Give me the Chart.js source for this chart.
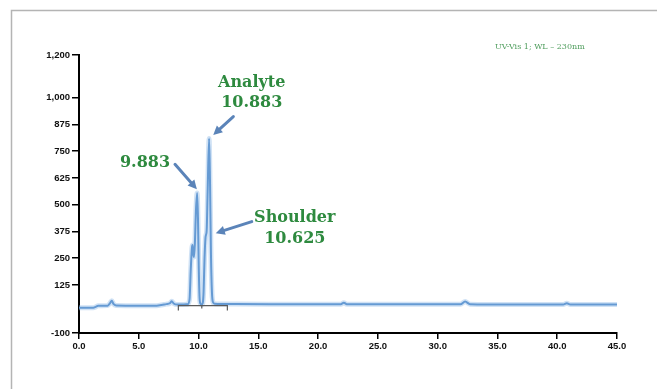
<!DOCTYPE html>
<html>
<head>
<meta charset="utf-8">
<script src="https://cdn.jsdelivr.net/npm/chart.js@4/dist/chart.umd.min.js"></script>
<style>
  html, body { margin: 0; padding: 0; background: #fff; }
  #wrap { position: relative; width: 657px; height: 389px; }
</style>
</head>
<body>
<div id="wrap"><canvas id="chrom" width="657" height="389"></canvas></div>
<script>
// Chromatogram trace: retention time (min) and detector response (mAU)
const retentionTimes = [
  0.0, 1.2, 1.4, 1.6, 2.4, 2.6, 2.74, 2.88, 3.1, 5.0, 6.5, 7.3, 7.6, 7.76, 7.92, 8.2, 9.0,
  9.10, 9.25, 9.35, 9.45, 9.50, 9.56, 9.62, 9.70, 9.78, 9.883, 9.95, 10.02, 10.08, 10.15,
  10.25, 10.35, 10.42, 10.50, 10.58, 10.625, 10.68, 10.76, 10.883, 10.96, 11.04, 11.12,
  11.20, 11.35, 12.0, 16.0, 21.9, 22.15, 22.4, 27.0, 31.9, 32.3, 32.7, 36.0, 40.5, 40.8,
  41.1, 45.0
];
const response = [
  18, 18, 22, 27, 28, 40, 51, 36, 29, 28, 28, 35, 39, 48, 38, 33, 34,
  35, 60, 200, 300, 312, 270, 255, 330, 470, 555, 440, 200, 70, 38,
  33, 40, 90, 250, 345, 359, 380, 560, 810, 600, 260, 90,
  45, 37, 36, 35, 35, 42, 35, 34, 34, 47, 35, 33, 33, 39,
  33, 33
];

// Integration baseline drawn under the peak cluster (null breaks the path)
const integrationT = [8.31, 8.31, 12.41, 12.41, null, 10.27, 10.27];
const integrationV = [5, 28, 28, 5, null, 28, 14];

// Axis ticks
const yTickValues = [-100, 125, 250, 375, 500, 625, 750, 875, 1000, 1200];
const xTickValues = [0, 5, 10, 15, 20, 25, 30, 35, 40, 45];

// Peak annotations: text lines with centre positions in data units
const labelLines = [['Analyte', '10.883'], ['9.883'], ['Shoulder', '10.625']];
const labelT = [14.45, 5.52, 18.05];
const labelV = [[1068, 976], [695], [437, 340]];

// Arrows from label towards the peak: [tailT, tailV, headT, headV]
const arrowTail = [[12.91, 912], [8.03, 689], [14.45, 421]];
const arrowHead = [[11.23, 826], [9.86, 572], [11.44, 367]];

const detectorNote = 'UV-Vis 1; WL \u2013 230nm';
const detectorNoteAt = [34.8, 1237];

const toPoints = (xs, ys) => xs.map((x, i) => ({ x: x, y: x === null ? null : ys[i] }));

const framePlugin = {
  id: 'frame',
  beforeDraw(chart) {
    const ctx = chart.ctx;
    ctx.save();
    ctx.strokeStyle = '#b4b4b4';
    ctx.lineWidth = 1.5;
    ctx.beginPath();
    ctx.moveTo(11.5, chart.height);
    ctx.lineTo(11.5, 10.5);
    ctx.lineTo(chart.width, 10.5);
    ctx.stroke();
    ctx.restore();
  }
};

function drawArrow(ctx, x1, y1, x2, y2) {
  const ang = Math.atan2(y2 - y1, x2 - x1);
  const headLen = 9, headHalf = 4.5;
  const bx = x2 - headLen * Math.cos(ang), by = y2 - headLen * Math.sin(ang);
  ctx.beginPath();
  ctx.moveTo(x1, y1);
  ctx.lineTo(bx, by);
  ctx.stroke();
  ctx.beginPath();
  ctx.moveTo(x2, y2);
  ctx.lineTo(bx + headHalf * Math.sin(ang), by - headHalf * Math.cos(ang));
  ctx.lineTo(bx - headHalf * Math.sin(ang), by + headHalf * Math.cos(ang));
  ctx.closePath();
  ctx.fill();
}

const annotationPlugin = {
  id: 'peakNotes',
  afterDatasetsDraw(chart) {
    const ctx = chart.ctx;
    const xs = chart.scales.x, ys = chart.scales.y;
    ctx.save();
    // arrows
    ctx.strokeStyle = '#5b84b9';
    ctx.fillStyle = '#5b84b9';
    ctx.lineWidth = 3;
    ctx.lineCap = 'round';
    arrowTail.forEach((tail, i) => {
      const head = arrowHead[i];
      drawArrow(ctx,
        xs.getPixelForValue(tail[0]), ys.getPixelForValue(tail[1]),
        xs.getPixelForValue(head[0]), ys.getPixelForValue(head[1]));
    });
    // peak labels
    ctx.fillStyle = '#2e8a3f';
    ctx.font = 'bold 16px "DejaVu Serif", serif';
    ctx.textAlign = 'center';
    ctx.textBaseline = 'middle';
    labelLines.forEach((lines, i) => {
      lines.forEach((txt, j) => {
        ctx.fillText(txt, xs.getPixelForValue(labelT[i]), ys.getPixelForValue(labelV[i][j]));
      });
    });
    // detector note
    ctx.fillStyle = '#4f9d5d';
    ctx.font = '8px "DejaVu Serif", serif';
    ctx.textAlign = 'left';
    ctx.fillText(detectorNote, xs.getPixelForValue(detectorNoteAt[0]), ys.getPixelForValue(detectorNoteAt[1]));
    ctx.restore();
  }
};

const tickFont = { family: '"Liberation Sans", Arial, sans-serif', size: 9.5, weight: 'bold' };

new Chart(document.getElementById('chrom'), {
  type: 'line',
  data: {
    datasets: [
      {
        data: toPoints(integrationT, integrationV),
        borderColor: '#5a5a5a',
        borderWidth: 1.2,
        tension: 0,
        spanGaps: false,
        pointRadius: 0
      },
      {
        data: toPoints(retentionTimes, response),
        borderColor: 'rgba(150, 190, 232, 0.45)',
        borderWidth: 5,
        cubicInterpolationMode: 'monotone',
        pointRadius: 0
      },
      {
        data: toPoints(retentionTimes, response),
        borderColor: '#3d7cc2',
        borderWidth: 2,
        cubicInterpolationMode: 'monotone',
        pointRadius: 0
      }
    ]
  },
  options: {
    responsive: false,
    animation: false,
    layout: { padding: { top: 55, right: 40, left: 0, bottom: 0 } },
    plugins: { legend: { display: false }, tooltip: { enabled: false } },
    scales: {
      x: {
        type: 'linear',
        min: 0,
        max: 45,
        afterBuildTicks: s => { s.ticks = xTickValues.map(v => ({ value: v })); },
        afterFit: s => { s.height = 56; },
        grid: { drawOnChartArea: false, drawTicks: true, tickLength: 6, color: '#000', lineWidth: 1.5 },
        border: { display: true, color: '#000', width: 2 },
        ticks: { font: tickFont, color: '#111', padding: 2, maxRotation: 0, callback: v => Number(v).toFixed(1) }
      },
      y: {
        type: 'linear',
        min: -100,
        max: 1200,
        afterBuildTicks: s => { s.ticks = yTickValues.map(v => ({ value: v })); },
        afterFit: s => { s.width = 79; },
        grid: { drawOnChartArea: false, drawTicks: true, tickLength: 7, color: '#000', lineWidth: 1.5 },
        border: { display: true, color: '#000', width: 2 },
        ticks: { font: tickFont, color: '#111', padding: 2, callback: v => Number(v).toLocaleString('en-US') }
      }
    }
  },
  plugins: [framePlugin, annotationPlugin]
});
</script>
</body>
</html>
